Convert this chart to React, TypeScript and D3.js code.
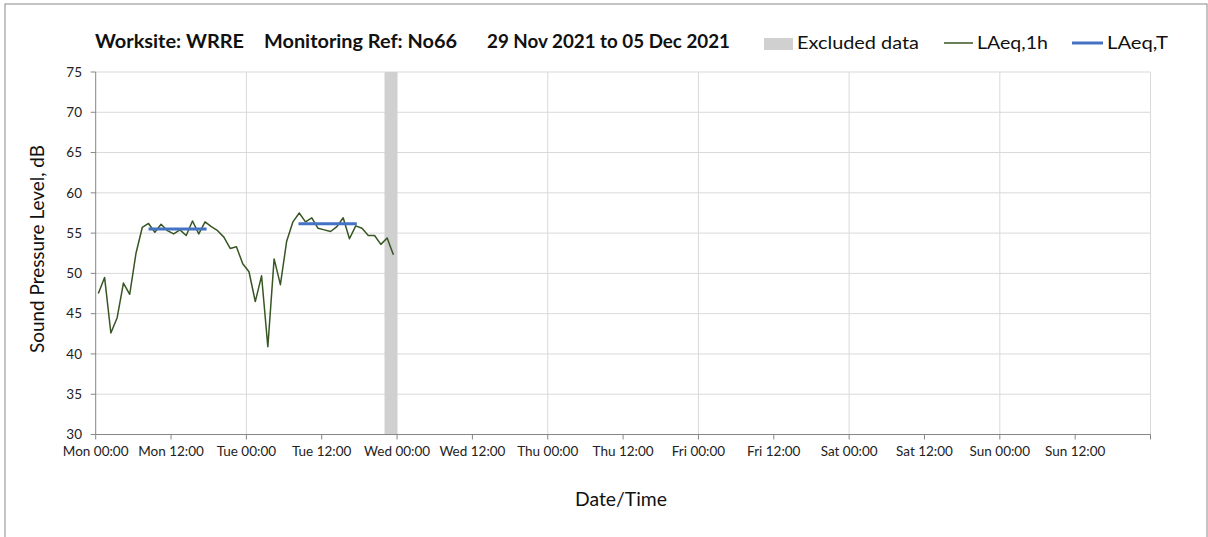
import React from "react";
import * as d3 from "d3";

const TITLE_PARTS = ["Worksite: WRRE", "Monitoring Ref: No66", "29 Nov 2021 to 05 Dec 2021"];
const LEGEND_LABELS = ["Excluded data", "LAeq,1h", "LAeq,T"];
const Y_TICKS = [30, 35, 40, 45, 50, 55, 60, 65, 70, 75];
const DAY_NAMES = ["Mon", "Tue", "Wed", "Thu", "Fri", "Sat", "Sun"];
const AXIS_START = "2021-11-29T00:00";
const AXIS_END = "2021-12-06T00:00";
const FIRST_SAMPLE = "2021-11-29T00:25";
// hourly LAeq,1h values
const LAEQ_1H = [
  47.5, 49.5, 42.6, 44.5, 48.8, 47.4, 52.5, 55.7, 56.2, 55.1, 56.1, 55.3,
  54.9, 55.4, 54.7, 56.5, 54.9, 56.4, 55.8, 55.3, 54.5, 53.1, 53.3, 51.2,
  50.2, 46.5, 49.7, 40.9, 51.8, 48.6, 54.0, 56.4, 57.5, 56.4, 56.9, 55.6,
  55.4, 55.2, 55.8, 56.9, 54.3, 55.9, 55.6, 54.7, 54.7, 53.6, 54.4, 52.3,
];
const LAEQ_T_STARTS = ["2021-11-29T08:25", "2021-11-30T08:18"];
const LAEQ_T_ENDS = ["2021-11-29T17:40", "2021-11-30T17:35"];
const LAEQ_T_VALUES = [55.5, 56.15];
const EXCLUDED_START = "2021-11-30T22:00";
const EXCLUDED_END = "2021-12-01T00:00";

const FONT = "Lato, 'Open Sans', sans-serif";

export default function App() {
  const W = 1208;
  const H = 537;
  const left = 95.7;
  const right = 1150.5;
  const top = 72;
  const bottom = 434.5;

  const x = d3
    .scaleTime()
    .domain([new Date(AXIS_START), new Date(AXIS_END)])
    .range([left, right]);
  const y = d3.scaleLinear().domain([30, 75]).range([bottom, top]);

  const start = new Date(FIRST_SAMPLE);
  const series = LAEQ_1H.map((v, i) => ({ t: d3.timeHour.offset(start, i), v }));
  const line = d3
    .line<{ t: Date; v: number }>()
    .x((d) => x(d.t))
    .y((d) => y(d.v));

  const dayTicks = d3.timeDay.range(new Date(AXIS_START), d3.timeDay.offset(new Date(AXIS_END), 1));
  const halfTicks = d3.timeHour.every(12)!.range(new Date(AXIS_START), d3.timeHour.offset(new Date(AXIS_END), 1));
  const labelTicks = halfTicks.filter((t) => t < new Date(AXIS_END));
  const fmt = (t: Date) => {
    const dn = DAY_NAMES[(t.getDay() + 6) % 7];
    return `${dn} ${d3.timeFormat("%H:%M")(t)}`;
  };

  const gridColor = "#d9d9d9";
  const axisColor = "#868686";

  return (
    <svg width={W} height={H} style={{ position: "absolute", left: 0, top: 0, background: "#fff" }}>
      <rect x={5} y={4} width={1202} height={540} fill="#fff" stroke="#898989" strokeWidth={1} />
      {/* grid */}
      {Y_TICKS.filter((v) => v !== 30).map((v) => (
        <line key={"gy" + v} x1={left} x2={right} y1={y(v)} y2={y(v)} stroke={gridColor} strokeWidth={1} />
      ))}
      {dayTicks.slice(1).map((t, i) => (
        <line key={"gx" + i} x1={x(t)} x2={x(t)} y1={top} y2={bottom} stroke={gridColor} strokeWidth={1} />
      ))}
      {/* excluded band */}
      <rect
        x={x(new Date(EXCLUDED_START))}
        y={top}
        width={x(new Date(EXCLUDED_END)) - x(new Date(EXCLUDED_START))}
        height={bottom - top}
        fill="#d0d0d0"
      />
      {/* axes */}
      <line x1={left} x2={left} y1={top} y2={bottom} stroke={axisColor} strokeWidth={1} />
      <line x1={left} x2={right} y1={bottom} y2={bottom} stroke={axisColor} strokeWidth={1} />
      {Y_TICKS.map((v) => (
        <g key={"yt" + v}>
          <line x1={left - 5} x2={left} y1={y(v)} y2={y(v)} stroke={axisColor} />
          <text x={82} y={y(v)} dy="0.35em" textAnchor="end" fontFamily={FONT} fontSize={13.5} fill="#222">
            {v}
          </text>
        </g>
      ))}
      {halfTicks.map((t, i) => (
        <line key={"xt" + i} x1={x(t)} x2={x(t)} y1={bottom} y2={bottom + 5} stroke={axisColor} />
      ))}
      {labelTicks.map((t, i) => (
        <text key={"xl" + i} x={x(t)} y={456} textAnchor="middle" fontFamily={FONT} fontSize={13.5} fill="#222">
          {fmt(t)}
        </text>
      ))}
      {/* data */}
      <path d={line(series) || ""} fill="none" stroke="#375623" strokeWidth={1.5} strokeLinejoin="round" />
      {LAEQ_T_VALUES.map((v, i) => (
        <line
          key={"lt" + i}
          x1={x(new Date(LAEQ_T_STARTS[i]))}
          x2={x(new Date(LAEQ_T_ENDS[i]))}
          y1={y(v)}
          y2={y(v)}
          stroke="#4472c4"
          strokeWidth={3}
        />
      ))}
      {/* axis titles */}
      <text
        transform={`translate(44,249) rotate(-90)`}
        textAnchor="middle"
        fontFamily={FONT}
        fontSize={18.5}
        fill="#111"
        textLength={208}
        lengthAdjust="spacingAndGlyphs"
      >
        Sound Pressure Level, dB
      </text>
      <text x={621} y={506} textAnchor="middle" fontFamily={FONT} fontSize={18.5} fill="#111" textLength={92} lengthAdjust="spacingAndGlyphs">
        Date/Time
      </text>
      {/* title */}
      <text x={95} y={48} fontFamily={FONT} fontWeight="bold" fontSize={19} fill="#111" textLength={149} lengthAdjust="spacingAndGlyphs">
        {TITLE_PARTS[0]}
      </text>
      <text x={264} y={48} fontFamily={FONT} fontWeight="bold" fontSize={19} fill="#111" textLength={193} lengthAdjust="spacingAndGlyphs">
        {TITLE_PARTS[1]}
      </text>
      <text x={487} y={48} fontFamily={FONT} fontWeight="bold" fontSize={19} fill="#111" textLength={243} lengthAdjust="spacingAndGlyphs">
        {TITLE_PARTS[2]}
      </text>
      {/* legend */}
      <rect x={764} y={38} width={29} height={12} fill="#d0d0d0" />
      <text x={797} y={49} fontFamily={FONT} fontSize={17.5} fill="#111" textLength={122} lengthAdjust="spacingAndGlyphs">
        {LEGEND_LABELS[0]}
      </text>
      <line x1={944} x2={973} y1={43} y2={43} stroke="#375623" strokeWidth={1.5} />
      <text x={977} y={49} fontFamily={FONT} fontSize={17.5} fill="#111" textLength={71} lengthAdjust="spacingAndGlyphs">
        {LEGEND_LABELS[1]}
      </text>
      <line x1={1072} x2={1103} y1={43} y2={43} stroke="#4472c4" strokeWidth={3} />
      <text x={1107} y={49} fontFamily={FONT} fontSize={17.5} fill="#111" textLength={61} lengthAdjust="spacingAndGlyphs">
        {LEGEND_LABELS[2]}
      </text>
    </svg>
  );
}
